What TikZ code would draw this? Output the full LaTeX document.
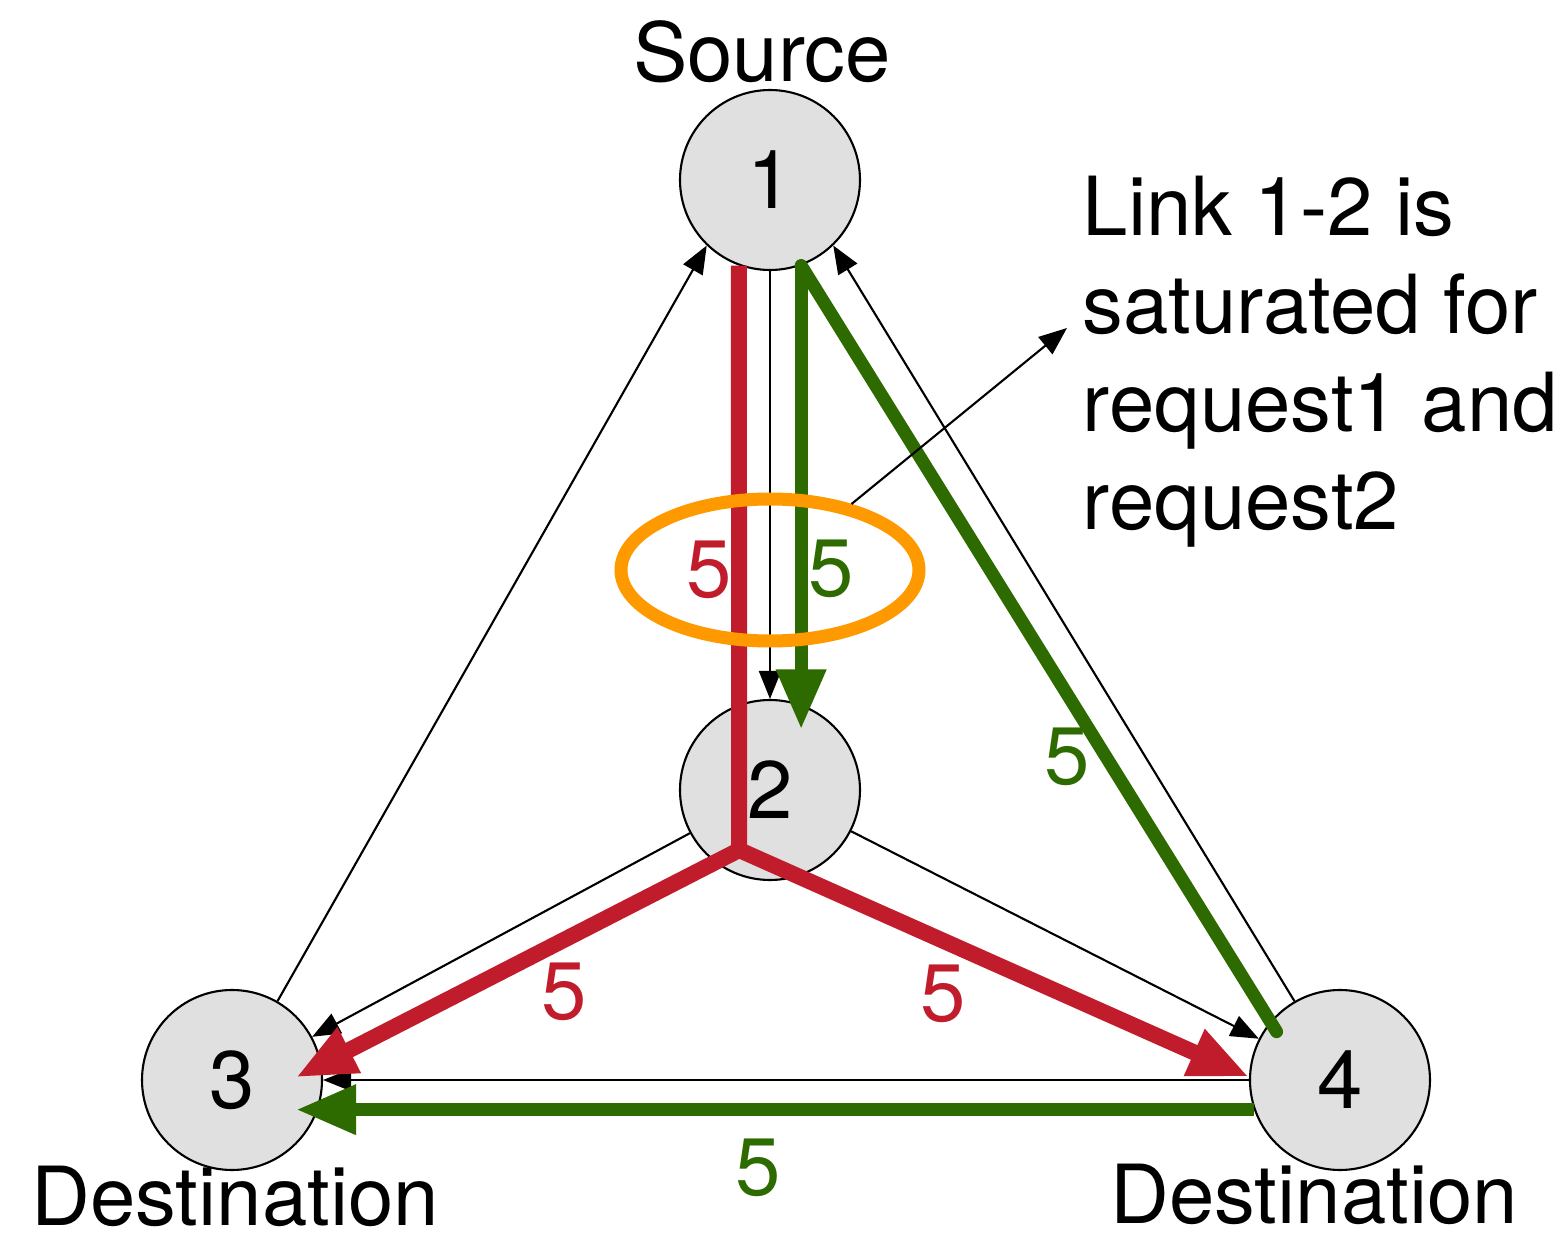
\documentclass[tikz,border=0pt]{standalone}
\usepackage{fontspec}
\setmainfont{TeX Gyre Heros}
\usetikzlibrary{arrows.meta,shapes.geometric}
\definecolor{rouge}{RGB}{192,28,44}
\definecolor{vert}{RGB}{45,106,0}
\definecolor{orangec}{RGB}{255,153,0}
\definecolor{gris}{RGB}{224,224,224}

\begin{document}
\begin{tikzpicture}[font=\fontsize{23.2}{27.9}\selectfont,
	ville/.style={circle, draw, fill=gris, minimum size=1.8cm, inner sep=0pt, line width=0.6pt},
	lien/.style={line width=0.6pt, -{Triangle[length=0.28cm,width=0.22cm]}},
	req1/.style={rouge, line width=0.16cm},
	req2/.style={vert, line width=0.13cm},
	tete/.style={-{Triangle[length=0.6cm,width=0.47cm]}}]
 \useasboundingbox (0,0) rectangle (15.66,12.37);

	% Villes
 \node[ville] (1) at (7.70,10.57) {1};
 \node[ville] (2) at (7.70,4.47) {2};
 \node[ville] (3) at (2.32,1.57) {3};
 \node[ville] (4) at (13.40,1.57) {4};

 \node[anchor=base, inner sep=0pt] (src) at (7.62,11.55) {Source};
 \node[anchor=base, inner sep=0pt] (dst3) at (2.35,0.12) {Destination};
 \node[anchor=base, inner sep=0pt] (dst4) at (13.14,0.14) {Destination};

	% Liaisons
 \draw[lien] (1) -- (2);
 \draw[lien] (2) -- (3);
 \draw[lien] (2) -- (4);
 \draw[lien] (4) -- (3);
 \draw[lien] (3.60) -- (1.226);
 \draw[lien] (4.120) -- (1.314);

	% Requete 1
 \coordinate (j) at (7.392,3.87);
 \draw[req1] (1.250) -- (j) node[pos=.52, xshift=-0.3cm]{5};
 \draw[req1, tete, line cap=round, shorten >=-0.29cm] (j) -- (3.10) node[pos=.42, yshift=-0.52cm]{5};
 \draw[req1, tete, line cap=round] (j) -- (4.178) node[pos=.4, yshift=-0.53cm]{5};

	% Requete 2
 \draw[req2, tete, shorten >=-0.25cm] (1.290) -- (2.70) node[pos=.69, xshift=0.3cm]{5};
 \draw[req2, line cap=round, shorten >=-0.12cm] (1.290) -- (4.140) node[pos=.65, xshift=-0.385cm]{5};
 \draw[req2, tete, shorten >=-0.22cm] (4.199) -- (3.341) node[pos=.53, yshift=-0.58cm]{5};

	% Lien sature
 \node[ellipse, draw=orangec, line width=0.13cm, minimum width=2.98cm, minimum height=1.42cm, inner sep=0pt] (sat) at (7.70,6.67) {};
 \node[anchor=north west, align=left, inner sep=0pt] (note) at (10.82,10.62) {Link 1-2 is\\saturated for\\request1 and\\request2};
 \coordinate (pointe) at (10.67,9.09);
 \draw[lien] (sat.39) -- (pointe);

\end{tikzpicture}
\end{document}
